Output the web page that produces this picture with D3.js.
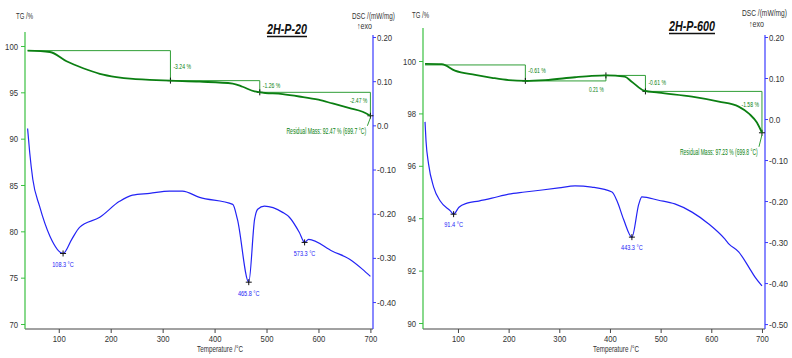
<!DOCTYPE html>
<html>
<head>
<meta charset="utf-8">
<script src="https://cdn.jsdelivr.net/npm/d3@7/dist/d3.min.js"></script>
<style>
  body { margin: 0; background: #fff; }
  svg { display: block; font-family: "Liberation Sans", Arial, sans-serif; }
</style>
</head>
<body>
<svg id="chart" width="792" height="358"></svg>
<script>
// ---- 2H-P-20 ----
const tgTempP20 = [40, 83, 115, 147, 179, 211, 243, 275, 315, 371, 435, 454, 477, 487, 531, 563, 600, 627, 660, 685, 700]
const tgP20 = [99.5, 99.35, 98.35, 97.6, 97.0, 96.65, 96.45, 96.35, 96.26, 96.15, 95.95, 95.6, 95.1, 95.0, 94.8, 94.55, 94.2, 93.8, 93.3, 92.9, 92.47]
const dscTempP20 = [40, 44, 50, 63, 83, 108.3, 125, 140, 179, 217, 242, 275, 313, 338, 371, 435, 444, 465.8, 477, 483, 496, 531, 544, 563, 573.3, 581, 627, 660, 685, 700]
const dscP20 = [-0.007, -0.061, -0.122, -0.183, -0.251, -0.290, -0.258, -0.231, -0.208, -0.172, -0.158, -0.154, -0.149, -0.149, -0.163, -0.179, -0.213, -0.355, -0.213, -0.190, -0.183, -0.197, -0.208, -0.242, -0.265, -0.258, -0.285, -0.303, -0.326, -0.342]
const peakTempP20 = [108.3, 465.8, 573.3]
const peakLabelsP20 = ['108.3 °C', '465.8 °C', '573.3 °C']
const stepTempP20 = [40, 315, 487, 700]
const stepLevelP20 = [99.5, 96.26, 95.0, 92.47]
const stepLabelsP20 = ['-3.24 %', '-1.26 %', '-2.47 %']
const residualP20 = 'Residual Mass: 92.47 % (699.7 °C)'

// ---- 2H-P-600 ----
const tgTempP600 = [35, 68, 94, 134, 167, 200, 233, 272, 331, 364, 392, 429, 443, 467, 496, 562, 615, 654, 675, 690, 700]
const tgP600 = [99.89, 99.88, 99.63, 99.47, 99.36, 99.27, 99.24, 99.27, 99.38, 99.43, 99.45, 99.40, 99.21, 98.87, 98.79, 98.64, 98.45, 98.26, 97.98, 97.65, 97.26]
const dscTempP600 = [35, 37, 42, 52, 65, 85, 91.4, 102, 118, 141, 167, 200, 232, 266, 299, 331, 364, 404, 414, 427, 443.3, 457, 463, 496, 528, 562, 595, 627, 635, 654, 674, 686, 700]
const dscP600 = [-0.007, -0.054, -0.110, -0.166, -0.200, -0.224, -0.232, -0.215, -0.205, -0.200, -0.193, -0.183, -0.178, -0.173, -0.168, -0.163, -0.166, -0.178, -0.200, -0.245, -0.288, -0.207, -0.190, -0.198, -0.207, -0.227, -0.256, -0.293, -0.305, -0.324, -0.361, -0.385, -0.407]
const peakTempP600 = [91.4, 443.3]
const peakLabelsP600 = ['91.4 °C', '443.3 °C']
const stepTempP600 = [35, 233, 392, 470, 700]
const stepLevelP600 = [99.85, 99.24, 99.45, 98.84, 97.26]
const stepLabelsP600 = ['-0.61 %', '0.21 %', '-0.61 %', '-1.58 %']
const residualP600 = 'Residual Mass: 97.23 % (699.8 °C)'

const tempTicks = [100, 200, 300, 400, 500, 600, 700]

const TG_COLOR = '#0b7f12'
const STEP_COLOR = '#2f9e36'
const AXIS_GREEN = '#39c040'
const DSC_COLOR = '#2323f5'
const AXIS_BLUE = '#3a3aff'
const TEXT = '#333'

const svg = d3.select('#chart')

const panels = [
  {
    title: '2H-P-20', titleX: 287, titleY: 34, titleW: 40,
    left: 25, right: 373, bottom: 329, tgTop: 32, dscTop: 35,
    tempDomain: [35, 705],
    tgDomain: [69.46, 101.51], tgTicks: [70, 75, 80, 85, 90, 95, 100], tgMinor: d3.range(72.5, 101, 5), tgFmt: d3.format('d'),
    dscDomain: [-0.461, 0.2], dscRange: [329, 37], dscTicks: [-0.4, -0.3, -0.2, -0.1, 0, 0.1, 0.2], dscMinor: d3.range(-0.45, 0.2, 0.1),
    tgLabel: [16, 19], dscLabel: [352, 19], dscLabelW: 43, exoLabel: [357, 29],
    tgTemp: tgTempP20, tg: tgP20, dscTemp: dscTempP20, dsc: dscP20,
    peakTemp: peakTempP20, peakLabels: peakLabelsP20, peakDy: 14,
    stepTemp: stepTempP20, stepLevel: stepLevelP20, stepLabels: stepLabelsP20,
    stepSide: ['right', 'right', 'left'], stepDy: [0, -1, -4],
    residual: residualP20, residualDy: 18, residualW: 80,
    xLabelX: 220
  },
  {
    title: '2H-P-600', titleX: 692, titleY: 31, titleW: 46,
    left: 423, right: 765, bottom: 329, tgTop: 28, dscTop: 35,
    tempDomain: [31, 706],
    tgDomain: [89.771, 101.26], tgTicks: [90, 92, 94, 96, 98, 100], tgMinor: d3.range(91, 101, 2), tgFmt: d3.format('d'),
    dscDomain: [-0.512, 0.2], dscRange: [329, 37], dscTicks: [-0.5, -0.4, -0.3, -0.2, -0.1, 0, 0.1, 0.2], dscMinor: d3.range(-0.45, 0.2, 0.1),
    tgLabel: [412, 18], dscLabel: [742, 16], dscLabelW: 45, exoLabel: [749, 27],
    tgTemp: tgTempP600, tg: tgP600, dscTemp: dscTempP600, dsc: dscP600,
    peakTemp: peakTempP600, peakLabels: peakLabelsP600, peakDy: 13,
    stepTemp: stepTempP600, stepLevel: stepLevelP600, stepLabels: stepLabelsP600,
    stepSide: ['right', 'below', 'right', 'left'], stepDy: [-3, 0, -1, -8],
    residual: residualP600, residualDy: 22, residualW: 78,
    xLabelX: 616
  }
]

function dscFmt(d) {
  return Math.abs(d) < 1e-9 ? '0.0' : d.toFixed(2)
}

// text squeezed horizontally to the narrow look of the instrument software
function squeezed(parent, x, y, str, size, width, anchor) {
  const t = parent.append('text').attr('font-size', size).text(str)
  const w = t.node().getComputedTextLength()
  const dx = anchor === 'end' ? -width : anchor === 'middle' ? -width / 2 : 0
  t.attr('transform', `translate(${x + dx},${y}) scale(${width / w},1)`)
  return t
}

function plus(g, x, y) {
  g.append('path')
    .attr('d', `M${x - 3},${y}H${x + 3}M${x},${y - 3}V${y + 3}`)
    .attr('stroke', '#111')
    .attr('stroke-width', 1)
}

function styleTicks(sel, perChar) {
  sel.selectAll('text')
    .attr('fill', TEXT).attr('font-size', 9.5).attr('font-family', null)
    .attr('textLength', function () { return this.textContent.length * perChar })
    .attr('lengthAdjust', 'spacingAndGlyphs')
}

function drawPanel(p) {
  const g = svg.append('g')
  const x = d3.scaleLinear().domain(p.tempDomain).range([p.left, p.right])
  const yTG = d3.scaleLinear().domain(p.tgDomain).range([p.bottom, p.tgTop])
  const yDSC = d3.scaleLinear().domain(p.dscDomain).range(p.dscRange)

  // x axis
  const xa = g.append('g').attr('transform', `translate(0,${p.bottom})`)
  xa.call(d3.axisBottom(x).tickValues(d3.range(40, 701, 20)).tickSize(2).tickFormat(''))
  xa.call(d3.axisBottom(x).tickValues(tempTicks).tickSize(4).tickPadding(2).tickFormat(d3.format('d')))
  xa.selectAll('.domain').remove()
  xa.selectAll('line').attr('stroke', '#444')
  styleTicks(xa, 4.3)
  g.append('line')
    .attr('x1', p.left).attr('x2', p.right)
    .attr('y1', p.bottom).attr('y2', p.bottom)
    .attr('stroke', '#444')

  // TG axis (left)
  const la = g.append('g').attr('transform', `translate(${p.left},0)`)
  la.call(d3.axisLeft(yTG).tickValues(p.tgMinor).tickSize(2).tickFormat(''))
  la.call(d3.axisLeft(yTG).tickValues(p.tgTicks).tickSize(4).tickPadding(3).tickFormat(p.tgFmt))
  la.selectAll('.domain').remove()
  la.selectAll('line').attr('stroke', AXIS_GREEN)
  styleTicks(la, 4.3)
  g.append('line')
    .attr('x1', p.left).attr('x2', p.left)
    .attr('y1', p.tgTop).attr('y2', p.bottom)
    .attr('stroke', AXIS_GREEN).attr('stroke-width', 1.2)

  // DSC axis (right)
  const ra = g.append('g').attr('transform', `translate(${p.right},0)`)
  ra.call(d3.axisRight(yDSC).tickValues(p.dscMinor).tickSize(2).tickFormat(''))
  ra.call(d3.axisRight(yDSC).tickValues(p.dscTicks).tickSize(3).tickPadding(1).tickFormat(dscFmt))
  ra.selectAll('.domain').remove()
  ra.selectAll('line').attr('stroke', AXIS_BLUE)
  styleTicks(ra, 3.8)
  g.append('line')
    .attr('x1', p.right).attr('x2', p.right)
    .attr('y1', p.dscTop).attr('y2', p.bottom)
    .attr('stroke', AXIS_BLUE).attr('stroke-width', 1.2)

  // axis titles
  squeezed(g, p.tgLabel[0], p.tgLabel[1], 'TG /%', 9, 17).attr('fill', TEXT)
  squeezed(g, p.dscLabel[0], p.dscLabel[1], 'DSC /(mW/mg)', 9, p.dscLabelW).attr('fill', TEXT)
  squeezed(g, p.exoLabel[0], p.exoLabel[1], '↑exo', 9, 15).attr('fill', TEXT)
  squeezed(g, p.xLabelX, 352, 'Temperature /°C', 9, 46, 'middle').attr('fill', TEXT)

  // title
  squeezed(g, p.titleX, p.titleY, p.title, 14, p.titleW, 'middle')
    .attr('font-weight', 'bold').attr('font-style', 'italic').attr('fill', '#111')
  g.append('line')
    .attr('x1', p.titleX - p.titleW / 2).attr('x2', p.titleX + p.titleW / 2)
    .attr('y1', p.titleY + 2.5).attr('y2', p.titleY + 2.5)
    .attr('stroke', '#111').attr('stroke-width', 1.3)

  // step annotations
  const st = g.append('g')
  p.stepLabels.forEach((lab, i) => {
    const xa0 = x(p.stepTemp[i]), xa1 = x(p.stepTemp[i + 1])
    const ya0 = yTG(p.stepLevel[i]), ya1 = yTG(p.stepLevel[i + 1])
    st.append('path')
      .attr('d', `M${xa0},${ya0}H${xa1}V${ya1}`)
      .attr('fill', 'none').attr('stroke', STEP_COLOR).attr('stroke-width', 1)
    const side = p.stepSide[i]
    const w = lab.length * 2.5
    const mid = (ya0 + ya1) / 2 + 3 + p.stepDy[i]
    let t
    if (side === 'right') {
      t = squeezed(st, xa1 + 3, mid, lab, 8, w)
    } else if (side === 'left') {
      t = squeezed(st, xa1 - 3, mid, lab, 8, w, 'end')
    } else {
      t = squeezed(st, xa1 - 2, Math.max(ya0, ya1) + 11, lab, 8, w, 'end')
    }
    t.attr('fill', TG_COLOR)
  })

  // DSC curve
  g.append('path')
    .datum(p.dscTemp.map((t, i) => [t, p.dsc[i]]))
    .attr('fill', 'none').attr('stroke', DSC_COLOR).attr('stroke-width', 1.2)
    .attr('d', d3.line().x(d => x(d[0])).y(d => yDSC(d[1])).curve(d3.curveMonotoneX))

  // TG curve
  g.append('path')
    .datum(p.tgTemp.map((t, i) => [t, p.tg[i]]))
    .attr('fill', 'none').attr('stroke', TG_COLOR).attr('stroke-width', 1.8)
    .attr('d', d3.line().x(d => x(d[0])).y(d => yTG(d[1])).curve(d3.curveMonotoneX))

  // step markers
  p.stepTemp.slice(1).forEach((t, i) => plus(st, x(t), yTG(p.stepLevel[i + 1])))

  // residual mass
  const lastT = p.stepTemp[p.stepTemp.length - 1]
  const lastY = yTG(p.stepLevel[p.stepLevel.length - 1])
  g.append('line')
    .attr('x1', x(lastT) - 3).attr('y1', lastY + p.residualDy - 8)
    .attr('x2', x(lastT)).attr('y2', lastY + 2)
    .attr('stroke', STEP_COLOR)
  squeezed(g, x(lastT) - 4, lastY + p.residualDy, p.residual, 8.5, p.residualW, 'end')
    .attr('fill', TG_COLOR)

  // DSC peaks
  p.peakTemp.forEach((t, i) => {
    const v = p.dsc[p.dscTemp.indexOf(t)]
    plus(g, x(t), yDSC(v))
    const lab = p.peakLabels[i]
    squeezed(g, x(t), yDSC(v) + p.peakDy, lab, 8, lab.length * 2.7, 'middle')
      .attr('fill', DSC_COLOR)
  })
}

panels.forEach(drawPanel)
</script>
</body>
</html>
